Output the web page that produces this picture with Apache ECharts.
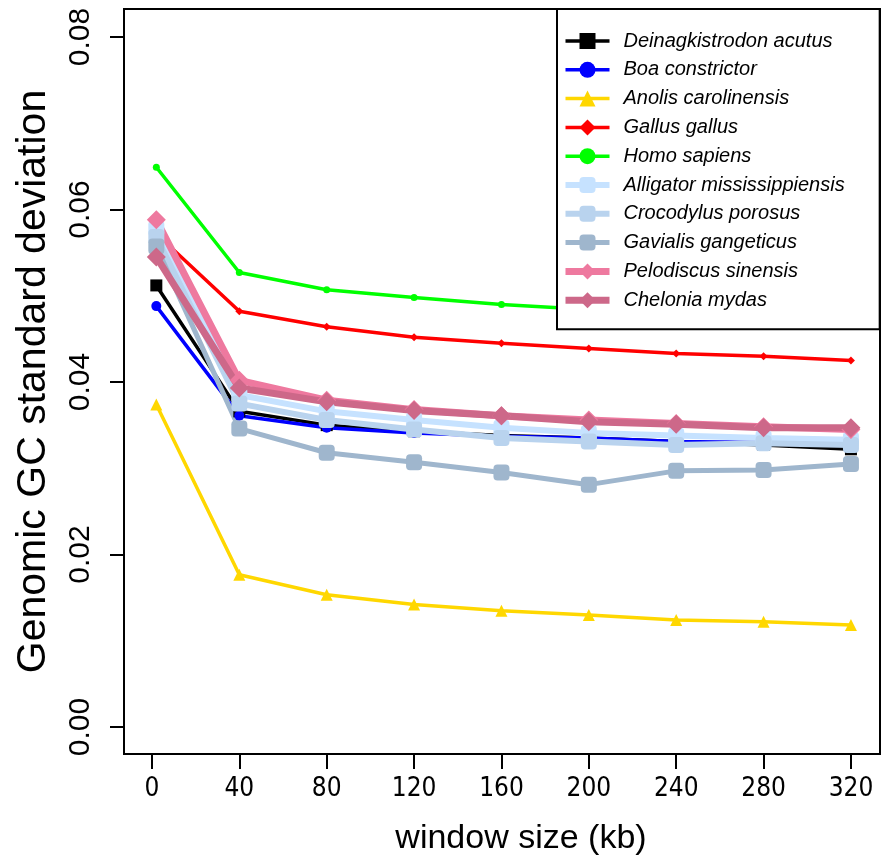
<!DOCTYPE html>
<html>
<head>
<meta charset="utf-8">
<script src="https://cdn.jsdelivr.net/npm/echarts@6/dist/echarts.min.js"></script>
<style>html,body{margin:0;padding:0;background:#fff}#c{width:884px;height:867px}</style>
</head>
<body>
<div id="c"></div>
<script>
var windowSizes = [2, 40, 80, 120, 160, 200, 240, 280, 320];
var xTicks = [0, 40, 80, 120, 160, 200, 240, 280, 320];
var yTicks = [0, 0.02, 0.04, 0.06, 0.08];

var deinagkistrodon = [0.0512, 0.0366, 0.0350, 0.0343, 0.0338, 0.0335, 0.0331, 0.0327, 0.0322];
var boa            = [0.0488, 0.0361, 0.0347, 0.0341, 0.0337, 0.0335, 0.0331, 0.0330, 0.0328];
var anolis         = [0.0374, 0.01765, 0.01533, 0.0142, 0.01347, 0.0130, 0.01242, 0.0122, 0.01184];
var gallus         = [0.0572, 0.0482, 0.0464, 0.0452, 0.0445, 0.0439, 0.0433, 0.0430, 0.0425];
var homo           = [0.0649, 0.0527, 0.0507, 0.0498, 0.0490, 0.0484, 0.0480, 0.0476, 0.0473];
var alligator      = [0.0578, 0.0385, 0.0366, 0.0356, 0.0347, 0.0341, 0.0338, 0.0335, 0.0333];
var crocodylus     = [0.0568, 0.0375, 0.0356, 0.0345, 0.0335, 0.0331, 0.0327, 0.0329, 0.0327];
var gavialis       = [0.0557, 0.0346, 0.0318, 0.0307, 0.0295, 0.0281, 0.0297, 0.0298, 0.0305];
var pelodiscus     = [0.0588, 0.0402, 0.0379, 0.0368, 0.0361, 0.0356, 0.0352, 0.0348, 0.0345];
var chelonia       = [0.0545, 0.0393, 0.0377, 0.0367, 0.0361, 0.0354, 0.0351, 0.0347, 0.0347];

function pairs(vals){ return vals.map(function(v,i){ return [windowSizes[i], v]; }); }

function mk(name, vals, color, symbol, size, lw){
  return {
    name: name, type: 'line', data: pairs(vals),
    symbol: symbol, symbolSize: size, showSymbol: true,
    lineStyle: {color: color, width: lw},
    itemStyle: {color: color, borderWidth: 0},
    emphasis: {disabled: true}
  };
}

var series = [
  mk('Deinagkistrodon acutus', deinagkistrodon, '#000000', 'rect', 12, 3.5),
  mk('Boa constrictor', boa, '#0000FF', 'circle', 10, 3.5),
  mk('Anolis carolinensis', anolis, '#FFD700', 'triangle', 12, 3.5),
  mk('Gallus gallus', gallus, '#FF0000', 'diamond', 8, 3.5),
  mk('Homo sapiens', homo, '#00FF00', 'circle', 7, 3.5),
  mk('Alligator mississippiensis', alligator, '#C6E2FF', 'roundRect', 16, 6),
  mk('Crocodylus porosus', crocodylus, '#B9D3EE', 'roundRect', 16, 6),
  mk('Gavialis gangeticus', gavialis, '#9FB6CD', 'roundRect', 16, 5),
  mk('Pelodiscus sinensis', pelodiscus, '#EE799F', 'diamond', 19, 7),
  mk('Chelonia mydas', chelonia, '#CD6889', 'diamond', 19, 7)
];

var chart = echarts.init(document.getElementById('c'), null, {renderer: 'canvas'});
chart.setOption({
  animation: false,
  backgroundColor: '#ffffff',
  grid: {left: 124, top: 9, right: 4, bottom: 113, show: true, borderColor: '#000', borderWidth: 2, backgroundColor: 'transparent'},
  legend: {
    orient: 'vertical', left: 557, top: 9,
    padding: [22, 35, 19, 5],
    itemWidth: 44, itemHeight: 20, itemGap: 8.8,
    backgroundColor: '#fff', borderColor: '#000', borderWidth: 2, borderRadius: 0,
    textStyle: {fontFamily: 'Liberation Sans', fontStyle: 'italic', fontSize: 20, color: '#000', padding: [0,0,0,9]},
    data: series.map(function(s){ return {name: s.name, lineStyle: {width: s.lineStyle.width}}; })
  },
  xAxis: {
    type: 'value', min: -12.8, max: 333.3,
    name: 'window size (kb)', nameLocation: 'middle', nameGap: 68,
    nameTextStyle: {fontFamily: 'Liberation Sans', fontSize: 34, color: '#000', padding: [0,0,0,38]},
    axisLine: {show: false, onZero: false},
    axisTick: {show: true, customValues: xTicks, length: 15, lineStyle: {color: '#000', width: 2}},
    axisLabel: {customValues: xTicks, margin: 22, fontFamily: "'DejaVu Sans Condensed', 'Liberation Sans', sans-serif", fontSize: 26, color: '#000'},
    splitLine: {show: false}
  },
  yAxis: {
    type: 'value', min: -0.00313, max: 0.08325,
    name: 'Genomic GC standard deviation', nameLocation: 'middle', nameGap: 70,
    nameTextStyle: {fontFamily: 'Liberation Sans', fontSize: 41, color: '#000'},
    axisLine: {show: false, onZero: false},
    axisTick: {show: true, customValues: yTicks, length: 14, lineStyle: {color: '#000', width: 2}},
    axisLabel: {customValues: yTicks, rotate: 90, margin: 28, fontFamily: 'Liberation Sans', fontSize: 30, color: '#000',
      formatter: function(v){ return v.toFixed(2); }},
    splitLine: {show: false}
  },
  series: series
});
</script>
</body>
</html>
